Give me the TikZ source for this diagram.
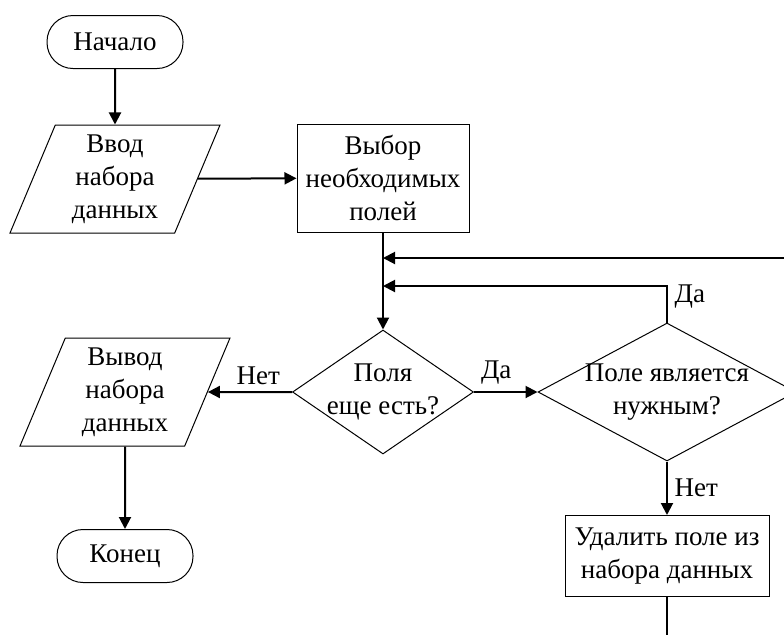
\documentclass[tikz,border=0pt]{standalone}
\usepackage{fontspec}
\setmainfont{Liberation Serif}
\usetikzlibrary{shapes.geometric,arrows.meta}

\tikzset{
  terminal/.style={draw, line width=0.5pt, rectangle, rounded corners=13pt,
    minimum width=68pt, minimum height=26.5pt},
  io/.style={draw, line width=0.5pt, trapezium, trapezium left angle=63,
    trapezium right angle=117, trapezium stretches body=true,
    minimum width=105pt, minimum height=54pt, inner sep=0pt, align=center},
  process/.style={draw, line width=0.5pt, rectangle, inner sep=2pt, align=center},
  decision/.style={draw, line width=0.5pt, diamond, inner sep=0pt},
  flow/.style={line width=1pt, -{Triangle[length=6pt,width=6pt]}},
  line/.style={line width=1pt}
}

\begin{document}
\begin{tikzpicture}[x=0.5pt, y=-0.5pt, font=\fontsize{13.5}{16.5}\selectfont]
  \useasboundingbox (0,0) rectangle (784,634);
  \clip (0,0) rectangle (784,634);

  % blocks
  \node [terminal] (start) at (115,42) {Начало};
  \node [io] (in) at (115,179) {Ввод\\набора\\данных};
  \node [process, minimum width=86pt, minimum height=54pt] (sel) at (383,178) {Выбор\\необходимых\\полей};
  \node [decision, minimum width=90.5pt, minimum height=62pt,
    label={[align=center]center:Поля\\еще есть?}] (q1) at (383,392) {};
  \node [decision, minimum width=129pt, minimum height=69pt,
    label={[align=center]center:Поле является\\нужным?}] (q2) at (667,392) {};
  \node [io] (out) at (125,392) {Вывод\\набора\\данных};
  \node [terminal] (stop) at (125,556) {Конец};
  \node [process, minimum width=102pt, minimum height=40.5pt] (del) at (667,556) {Удалить поле из\\набора данных};

  \coordinate (back) at (800,258);
  \coordinate (merge) at (383,286);
  \coordinate (exit) at (667,650);

  % connectors
  \draw [flow] (start) -- (in);
  \draw [flow] (in) -- (sel);
  \draw [flow] (sel) -- (q1);
  \draw [flow] (back) -- (sel.south |- back);
  \draw [flow] (q2.north) -- node [right, pos=0.7] {Да} (q2.north |- merge) -- (merge);
  \draw [flow] (q1.east) -- node [above, pos=0.35] {Да} (q2.west);
  \draw [flow] (q1.west) -- node [above, pos=0.4] {Нет} (out.east);
  \draw [flow] (out) -- (stop);
  \draw [flow] (q2.south) -- node [right] {Нет} (del.north);
  \draw [line] (del.south) -- (exit);
\end{tikzpicture}
\end{document}
